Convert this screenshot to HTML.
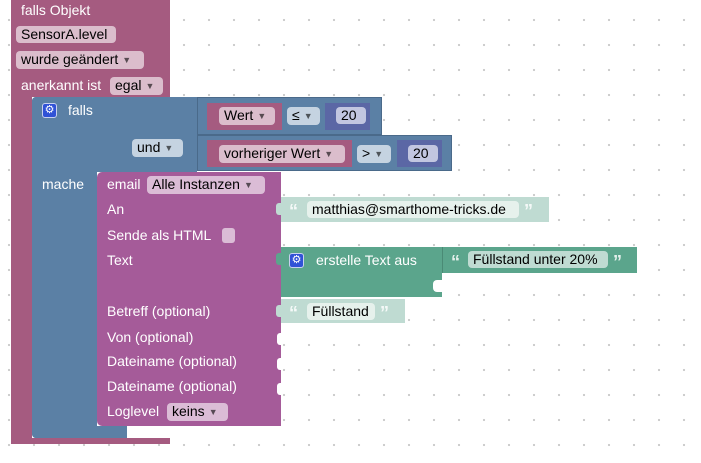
<!DOCTYPE html>
<html><head><meta charset="utf-8"><style>
body{margin:0;width:701px;height:463px;overflow:hidden;background:#fff;position:relative;font-family:"Liberation Sans",Arial,sans-serif;font-size:14px;}
.grid{position:absolute;left:0;top:0;width:701px;height:450px;background-image:radial-gradient(circle,#c8c8c8 0.9px,transparent 1.3px);background-size:25px 25px;background-position:-3.5px 7.5px;}
.a{position:absolute;box-sizing:border-box;}
.t{position:absolute;color:#fff;white-space:nowrap;line-height:16px;}
.f{position:absolute;border-radius:4px;color:#000;white-space:nowrap;line-height:17px;padding-left:5px;box-sizing:border-box;}
.dd{font-size:9px;opacity:.6;margin-left:4px;vertical-align:1px}
.q{position:absolute;color:#fff;font-weight:bold;font-size:18px;line-height:16px;opacity:.85}
.gear{position:absolute;width:15px;height:15px;background:#3052d6;border-radius:3px;border:1px solid #c8d0f0;box-sizing:border-box;color:#fff;font-size:11px;line-height:13px;text-align:center}
</style></head><body>
<div class="grid"></div>
<!-- pink event block -->
<div class="a" style="left:11px;top:0;width:159px;height:97px;background:#a55b80"></div>
<div class="a" style="left:11px;top:97px;width:21px;height:347px;background:#a55b80"></div>
<div class="a" style="left:11px;top:438px;width:159px;height:6px;background:#a55b80"></div>
<div class="t" style="left:21px;top:2px">falls Objekt</div>
<div class="f" style="left:16px;top:26px;width:100px;background:#dbbdcc">SensorA.level</div>
<div class="f" style="left:16px;top:51px;width:128px;background:#dbbdcc">wurde geändert<span class="dd">▼</span></div>
<div class="t" style="left:21px;top:77px">anerkannt ist</div>
<div class="f" style="left:110px;top:77px;width:53px;background:#dbbdcc">egal<span class="dd">▼</span></div>
<!-- blue falls block -->
<div class="a" style="left:32px;top:97px;width:165px;height:75px;background:#5b80a5;border-radius:4px 0 0 0"></div>
<div class="a" style="left:32px;top:97px;width:65px;height:341px;background:#5b80a5;border-radius:4px 0 0 4px"></div>
<div class="a" style="left:32px;top:426px;width:95px;height:12px;background:#5b80a5;border-radius:0 0 0 4px"></div>
<div class="gear" style="left:42px;top:103px">⚙</div>
<div class="t" style="left:68px;top:102px">falls</div>
<div class="f" style="left:132px;top:139px;width:51px;background:#c5d3e1">und<span class="dd">▼</span></div>
<div class="t" style="left:42px;top:176px">mache</div>
<!-- compare 1 -->
<div class="a" style="left:197px;top:97px;width:185px;height:38px;background:#5b80a5;border:1px solid #4a6a8a"></div>
<div class="a" style="left:207px;top:103px;width:75px;height:27px;background:#a55b80"></div>
<div class="f" style="left:219px;top:107px;width:56px;background:#dbbdcc">Wert<span class="dd">▼</span></div>
<div class="f" style="left:287px;top:107px;width:33px;background:#c5d3e1">≤<span class="dd">▼</span></div>
<div class="a" style="left:325px;top:103px;width:45px;height:27px;background:#5b67a5"></div>
<div class="f" style="left:336px;top:107px;width:30px;background:#c2c6e0">20</div>
<!-- compare 2 -->
<div class="a" style="left:197px;top:135px;width:255px;height:36px;background:#5b80a5;border:1px solid #4a6a8a"></div>
<div class="a" style="left:207px;top:140px;width:145px;height:27px;background:#a55b80"></div>
<div class="f" style="left:219px;top:145px;width:126px;background:#dbbdcc">vorheriger Wert<span class="dd">▼</span></div>
<div class="f" style="left:357px;top:145px;width:34px;background:#c5d3e1">&gt;<span class="dd">▼</span></div>
<div class="a" style="left:397px;top:140px;width:45px;height:27px;background:#5b67a5"></div>
<div class="f" style="left:408px;top:145px;width:30px;background:#c2c6e0">20</div>
<!-- email block -->
<div class="a" style="left:97px;top:172px;width:184px;height:254px;background:#a55b99;border-radius:5px 0 0 5px"></div>
<div class="t" style="left:107px;top:176px">email</div>
<div class="f" style="left:147px;top:176px;width:118px;background:#dbbcd6">Alle Instanzen<span class="dd">▼</span></div>
<div class="t" style="left:107px;top:201px">An</div>
<div class="t" style="left:107px;top:227px">Sende als HTML</div>
<div class="a" style="left:222px;top:228px;width:13px;height:15px;background:#dbbcd6;border-radius:3px"></div>
<div class="t" style="left:107px;top:252px">Text</div>
<div class="t" style="left:107px;top:303px">Betreff (optional)</div>
<div class="t" style="left:107px;top:329px">Von (optional)</div>
<div class="t" style="left:107px;top:353px">Dateiname (optional)</div>
<div class="t" style="left:107px;top:378px">Dateiname (optional)</div>
<div class="t" style="left:107px;top:403px">Loglevel</div>
<div class="f" style="left:167px;top:403px;width:61px;background:#dbbcd6">keins<span class="dd">▼</span></div>
<!-- notches on email right side -->
<div class="a" style="left:277px;top:333px;width:5px;height:12px;background:#fff;border-radius:3px 0 0 3px"></div>
<div class="a" style="left:277px;top:358px;width:5px;height:12px;background:#fff;border-radius:3px 0 0 3px"></div>
<div class="a" style="left:277px;top:383px;width:5px;height:12px;background:#fff;border-radius:3px 0 0 3px"></div>
<!-- strings -->
<div class="a" style="left:281px;top:197px;width:268px;height:25px;background:#bfdbd2"></div>
<div class="a" style="left:276px;top:203px;width:6px;height:12px;background:#bfdbd2;border-radius:3px 0 0 3px"></div>
<div class="q" style="left:289px;top:203px">“</div>
<div class="f" style="left:307px;top:201px;width:212px;background:#e6f1ec">matthias@smarthome-tricks.de</div>
<div class="q" style="left:524px;top:203px">”</div>
<div class="a" style="left:281px;top:247px;width:161px;height:50px;background:#5ba58c"></div>
<div class="a" style="left:276px;top:253px;width:6px;height:12px;background:#5ba58c;border-radius:3px 0 0 3px"></div>
<div class="gear" style="left:289px;top:253px">⚙</div>
<div class="t" style="left:316px;top:252px">erstelle Text aus</div>
<div class="a" style="left:442px;top:247px;width:195px;height:26px;background:#5ba58c;border-left:1px solid #4a8a75"></div>
<div class="a" style="left:433px;top:280px;width:9px;height:12px;background:#fff;border-radius:4px 0 0 4px"></div>
<div class="q" style="left:451px;top:254px">“</div>
<div class="f" style="left:468px;top:251px;width:140px;background:#bfdbd2">Füllstand unter 20%</div>
<div class="q" style="left:613px;top:254px">”</div>
<div class="a" style="left:281px;top:299px;width:124px;height:24px;background:#bfdbd2"></div>
<div class="a" style="left:276px;top:305px;width:6px;height:12px;background:#bfdbd2;border-radius:3px 0 0 3px"></div>
<div class="q" style="left:289px;top:305px">“</div>
<div class="f" style="left:307px;top:303px;width:68px;background:#e6f1ec">Füllstand</div>
<div class="q" style="left:380px;top:305px">”</div>
</body></html>
